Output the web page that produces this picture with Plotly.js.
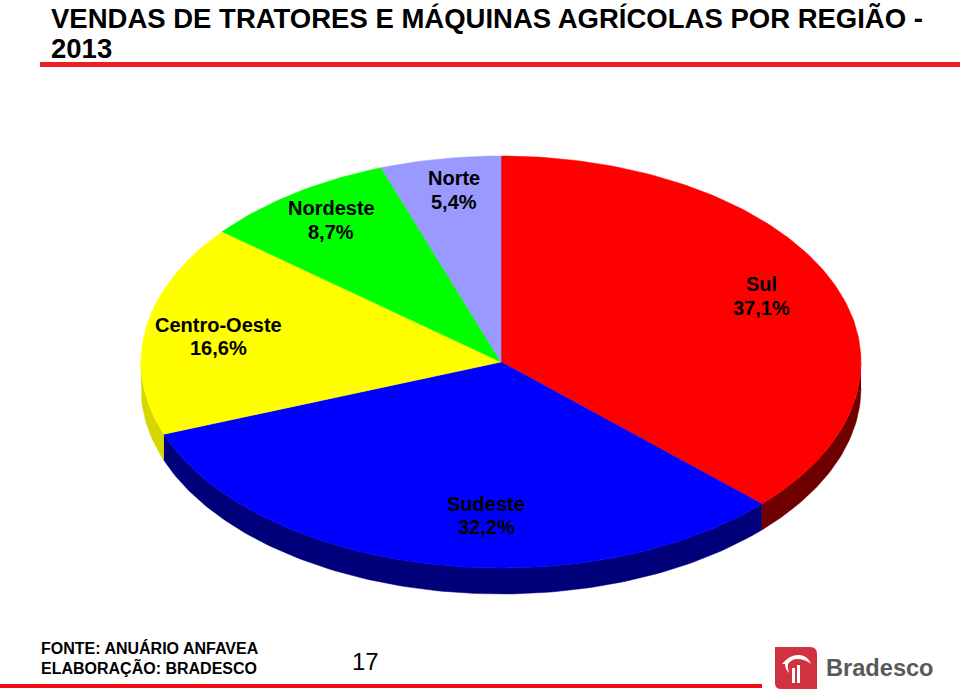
<!DOCTYPE html>
<html>
<head>
<meta charset="utf-8">
<script src="https://cdn.plot.ly/plotly-3.0.1.min.js"></script>
<style>
  html, body { margin: 0; padding: 0; background: #fff; }
  #chart { width: 960px; height: 689px; }
</style>
</head>
<body>
<div id="chart"></div>
<script>
// Vendas por região, clockwise from 12 o'clock, in %
const regions = ['Sul', 'Sudeste', 'Centro-Oeste', 'Nordeste', 'Norte'];
const shares = [37.1, 32.2, 16.6, 8.7, 5.4];
const shareLabels = ['37,1%', '32,2%', '16,6%', '8,7%', '5,4%'];
const topColors = ['#ff0000', '#0000ff', '#ffff00', '#00ff00', '#9999ff'];
const sideColors = ['#6e0000', '#00007a', '#d6d600', '#008000', '#505080'];

// Where each label sits, in page pixels: name line and share line
const labelX = [761, 486, 218, 331, 454];
const nameY = [284, 504, 325, 208, 178];
const shareY = [308, 527, 348, 232, 202];

const CX = 501, CY = 362, RX = 360, RY = 206, DEPTH = 26;
const SANS = 'Liberation Sans, Arial, sans-serif';

function rimPoint(deg, dy) {
  const t = deg * Math.PI / 180;
  return [CX + RX * Math.sin(t), CY - RY * Math.cos(t) + dy];
}

function arc(a0, a1, dy) {
  const n = Math.max(2, Math.ceil(Math.abs(a1 - a0)));
  const pts = [];
  for (let i = 0; i <= n; i++) pts.push(rimPoint(a0 + (a1 - a0) * i / n, dy));
  return pts;
}

function polyTrace(pts, color) {
  return {
    type: 'scatter',
    mode: 'lines',
    x: pts.map(p => p[0]),
    y: pts.map(p => p[1]),
    fill: 'toself',
    fillcolor: color,
    line: { color: color, width: 0.5 },
    hoverinfo: 'skip',
    showlegend: false,
  };
}

const total = shares.reduce((a, b) => a + b, 0);
const sideTraces = [];
const topTraces = [];
let cum = 0;
shares.forEach((s, i) => {
  const a0 = cum / total * 360;
  const a1 = (cum + s) / total * 360;
  cum += s;
  // rim wall only shows on the front half
  const f0 = Math.max(a0, 90);
  const f1 = Math.min(a1, 270);
  if (f1 > f0) {
    sideTraces.push(polyTrace(arc(f0, f1, 0).concat(arc(f1, f0, DEPTH)), sideColors[i]));
  }
  topTraces.push(polyTrace([[CX, CY]].concat(arc(a0, a1, 0)).concat([[CX, CY]]), topColors[i]));
});

function pageText(x, y, text, size, anchor, color) {
  return {
    xref: 'x', yref: 'y', x: x, y: y, text: text,
    showarrow: false, xanchor: anchor, yanchor: 'middle', align: 'left',
    font: { family: SANS, size: size, color: color || '#000' },
  };
}

const annotations = [];
regions.forEach((r, i) => {
  annotations.push(pageText(labelX[i], nameY[i], `<b>${r}</b>`, 20, 'center'));
  annotations.push(pageText(labelX[i], shareY[i], `<b>${shareLabels[i]}</b>`, 20, 'center'));
});

annotations.push(
  pageText(48.5, 18, '<b>VENDAS DE TRATORES E MÁQUINAS AGRÍCOLAS POR REGIÃO -</b>', 27.5, 'left'),
  pageText(48.5, 48, '<b>2013</b>', 27.5, 'left'),
  pageText(39, 648, '<b>FONTE: ANUÁRIO ANFAVEA</b>', 16, 'left'),
  pageText(39, 667, '<b>ELABORAÇÃO: BRADESCO</b>', 16, 'left'),
  pageText(365.5, 661, '17', 24, 'center'),
  pageText(824, 668, '<b>Bradesco</b>', 23.6, 'left', '#58595b')
);

const shapes = [
  { type: 'rect', xref: 'x', yref: 'y', x0: 40, x1: 960, y0: 62, y1: 67, fillcolor: '#ee1c25', line: { width: 0 } },
  { type: 'rect', xref: 'x', yref: 'y', x0: 0, x1: 762, y0: 684, y1: 688, fillcolor: '#f00a14', line: { width: 0 } },
  // logo tile
  { type: 'path', xref: 'x', yref: 'y', path: 'M 775 647 L 810 647 Q 817 647 817 654 L 817 689 L 781 689 Q 775 689 775 683 Z', fillcolor: '#d0323f', line: { width: 0 } },
  { type: 'path', xref: 'x', yref: 'y', path: 'M 782 664 Q 790 654 800 655 Q 808 656 811 664 Q 805 659 797 659 Q 792 659 788 664 Q 787 668 789 673 Q 785 669 785 664 Z', fillcolor: '#ffffff', line: { width: 0 } },
  { type: 'rect', xref: 'x', yref: 'y', x0: 792, x1: 795, y0: 668, y1: 683, fillcolor: '#ffffff', line: { width: 0 } },
  { type: 'rect', xref: 'x', yref: 'y', x0: 797, x1: 800, y0: 665, y1: 683, fillcolor: '#ffffff', line: { width: 0 } },
];

const layout = {
  width: 960,
  height: 689,
  margin: { t: 0, r: 0, b: 0, l: 0 },
  paper_bgcolor: '#ffffff',
  plot_bgcolor: '#ffffff',
  showlegend: false,
  xaxis: { range: [0, 960], visible: false, fixedrange: true },
  yaxis: { range: [689, 0], visible: false, fixedrange: true },
  shapes,
  annotations,
};

Plotly.newPlot('chart', sideTraces.concat(topTraces), layout, { displayModeBar: false, staticPlot: true });
</script>
</body>
</html>
